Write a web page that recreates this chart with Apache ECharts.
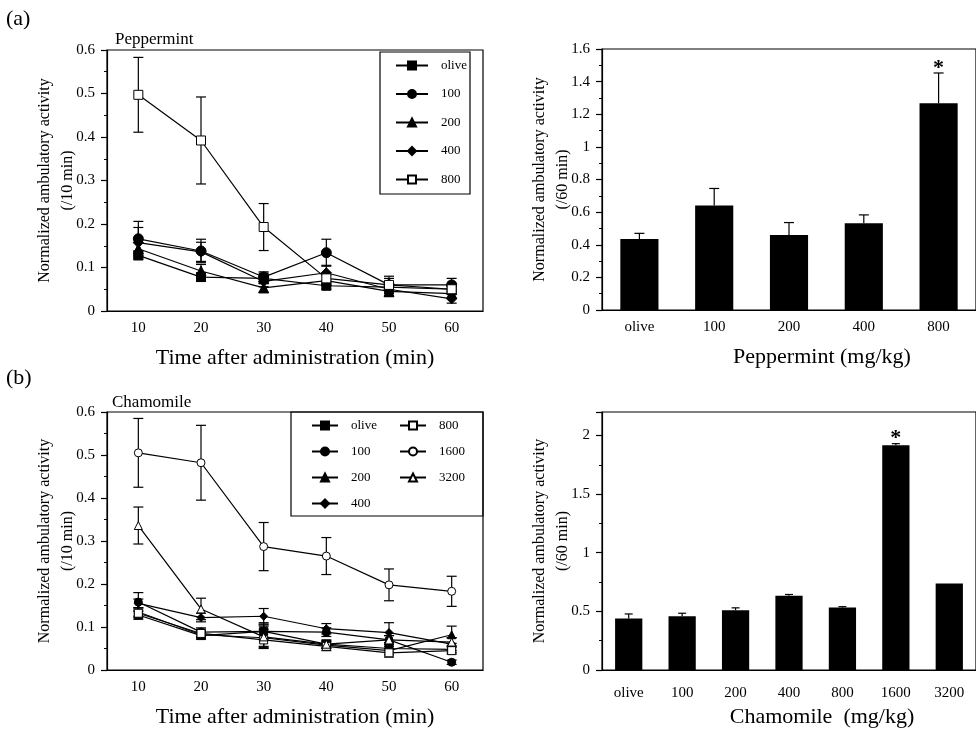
<!DOCTYPE html>
<html>
<head>
<meta charset="utf-8">
<script src="https://cdn.jsdelivr.net/npm/echarts@6/dist/echarts.min.js"></script>
<style>
  html, body { margin: 0; padding: 0; background: #fff; }
  #main { width: 976px; height: 729px; }
</style>
</head>
<body>
<div id="main"></div>
<script>
// time points (min)
var minutes = ['10', '20', '30', '40', '50', '60'];

// (a) peppermint, time course
var pepOlive = [0.128, 0.078, 0.075, 0.058, 0.055, 0.050];
var pepOliveErr = [0.010, 0.010, 0.012, 0.008, 0.012, 0.010];
var pep100 = [0.166, 0.138, 0.078, 0.134, 0.060, 0.060];
var pep100Err = [0.040, 0.027, 0.012, 0.031, 0.015, 0.015];
var pep200 = [0.143, 0.092, 0.053, 0.070, 0.045, 0.040];
var pep200Err = [0.015, 0.015, 0.010, 0.012, 0.012, 0.010];
var pep400 = [0.157, 0.136, 0.068, 0.088, 0.050, 0.028];
var pep400Err = [0.035, 0.022, 0.012, 0.017, 0.015, 0.010];
var pep800 = [0.497, 0.392, 0.193, 0.075, 0.060, 0.050];
var pep800Err = [0.086, 0.100, 0.054, 0.012, 0.020, 0.012];

// (a) peppermint, 60 min totals
var pepDoses = ['olive', '100', '200', '400', '800'];
var pepMeans = [0.436, 0.640, 0.460, 0.532, 1.268];
var pepErr = [0.034, 0.105, 0.076, 0.051, 0.185];
var pepSig = [0, 0, 0, 0, 1];

// (b) chamomile, time course
var chaOlive = [0.128, 0.080, 0.090, 0.060, 0.050, 0.048];
var chaOliveErr = [0.010, 0.008, 0.015, 0.008, 0.010, 0.008];
var cha100 = [0.158, 0.088, 0.090, 0.088, 0.070, 0.018];
var cha100Err = [0.022, 0.010, 0.020, 0.010, 0.010, 0.005];
var cha200 = [0.135, 0.082, 0.075, 0.058, 0.045, 0.082];
var cha200Err = [0.010, 0.010, 0.020, 0.008, 0.010, 0.020];
var cha400 = [0.155, 0.122, 0.125, 0.096, 0.087, 0.060];
var cha400Err = [0.010, 0.010, 0.018, 0.012, 0.023, 0.015];
var cha800 = [0.132, 0.085, 0.070, 0.055, 0.040, 0.045];
var cha800Err = [0.010, 0.010, 0.020, 0.010, 0.010, 0.008];
var cha1600 = [0.505, 0.482, 0.287, 0.265, 0.198, 0.183];
var cha1600Err = [0.080, 0.087, 0.056, 0.043, 0.037, 0.035];
var cha3200 = [0.336, 0.142, 0.077, 0.060, 0.070, 0.065];
var cha3200Err = [0.043, 0.025, 0.025, 0.010, 0.010, 0.010];

// (b) chamomile, 60 min totals
var chaDoses = ['olive', '100', '200', '400', '800', '1600', '3200'];
var chaMeans = [0.439, 0.458, 0.509, 0.633, 0.532, 1.916, 0.737];
var chaErr = [0.039, 0.026, 0.021, 0.011, 0.008, 0.014, 0];
var chaSig = [0, 0, 0, 0, 0, 1, 0];

var FONT = 'Liberation Serif';
var INK = '#000';

// symbol look for each dose
var doseStyle = {
    'olive': { symbol: 'rect', fill: INK },
    '100': { symbol: 'circle', fill: INK },
    '200': { symbol: 'triangle', fill: INK },
    '400': { symbol: 'diamond', fill: INK },
    '800': { symbol: 'rect', fill: '#fff' },
    '1600': { symbol: 'circle', fill: '#fff' },
    '3200': { symbol: 'triangle', fill: '#fff' }
};

// error bars (both sides for time course, upper only for bars)
function errorRender(capW, upperOnly) {
    return function(params, api) {
        var i = api.value(0), m = api.value(1), e = api.value(2), sig = api.value(3);
        var top = api.coord([i, m + e]);
        var bot = api.coord([i, upperOnly ? m : m - e]);
        var st = { stroke: INK, lineWidth: 1.2 };
        var kids = [];
        if (e > 0) {
            kids.push({ type: 'line', shape: { x1: top[0], y1: top[1], x2: bot[0], y2: bot[1] }, style: st });
            kids.push({ type: 'line', shape: { x1: top[0] - capW / 2, y1: top[1], x2: top[0] + capW / 2, y2: top[1] }, style: st });
            if (!upperOnly) {
                kids.push({ type: 'line', shape: { x1: bot[0] - capW / 2, y1: bot[1], x2: bot[0] + capW / 2, y2: bot[1] }, style: st });
            }
        }
        if (sig) {
            kids.push({ type: 'text', x: top[0], y: top[1] + 6, style: {
                text: '*', fill: INK, font: 'bold 22px ' + FONT, align: 'center', verticalAlign: 'bottom' } });
        }
        return { type: 'group', children: kids };
    };
}

function errData(means, errs, sig) {
    return means.map(function(v, i) { return [i, v, errs[i], sig ? sig[i] : 0]; });
}

var series = [];
function addCourse(panel, name, vals, errs, size) {
    var s = doseStyle[name];
    series.push({
        type: 'custom', xAxisIndex: panel, yAxisIndex: panel, z: 2, silent: true,
        renderItem: errorRender(10, false), data: errData(vals, errs)
    });
    series.push({
        type: 'line', name: name, xAxisIndex: panel, yAxisIndex: panel, z: 3,
        data: vals, symbol: s.symbol, symbolSize: size, showAllSymbol: true,
        lineStyle: { color: INK, width: 1.2 },
        itemStyle: { color: s.fill, borderColor: INK, borderWidth: 1 }
    });
}

addCourse(0, 'olive', pepOlive, pepOliveErr, 9);
addCourse(0, '100', pep100, pep100Err, 10);
addCourse(0, '200', pep200, pep200Err, 10);
addCourse(0, '400', pep400, pep400Err, 10);
addCourse(0, '800', pep800, pep800Err, 9);

addCourse(2, 'olive', chaOlive, chaOliveErr, 8);
addCourse(2, '100', cha100, cha100Err, 8);
addCourse(2, '200', cha200, cha200Err, 8);
addCourse(2, '400', cha400, cha400Err, 8);
addCourse(2, '800', cha800, cha800Err, 8);
addCourse(2, '1600', cha1600, cha1600Err, 8);
addCourse(2, '3200', cha3200, cha3200Err, 8);

series.push({
    type: 'bar', xAxisIndex: 1, yAxisIndex: 1, data: pepMeans, barWidth: '51%',
    itemStyle: { color: INK }, silent: true
});
series.push({
    type: 'custom', xAxisIndex: 1, yAxisIndex: 1, z: 3, silent: true,
    renderItem: errorRender(10, true), data: errData(pepMeans, pepErr, pepSig)
});
series.push({
    type: 'bar', xAxisIndex: 3, yAxisIndex: 3, data: chaMeans, barWidth: '51%',
    itemStyle: { color: INK }, silent: true
});
series.push({
    type: 'custom', xAxisIndex: 3, yAxisIndex: 3, z: 3, silent: true,
    renderItem: errorRender(8, true), data: errData(chaMeans, chaErr, chaSig)
});

var axLine = { lineStyle: { color: INK, width: 1.2 } };
var tickLbl = { color: INK, fontFamily: FONT, fontSize: 15 };

function xAx(grid, cats, name, shift, margin) {
    return {
        type: 'category', gridIndex: grid, data: cats, boundaryGap: true,
        axisLine: axLine,
        axisTick: { alignWithLabel: true, length: 5, lineStyle: { color: INK, width: 1.2 } },
        axisLabel: Object.assign({ margin: margin }, tickLbl),
        name: name, nameLocation: 'middle', nameGap: 36,
        nameTextStyle: { color: INK, fontFamily: FONT, fontSize: 22, padding: [0, 0, 0, shift] }
    };
}
function yAx(grid, max, step, name, gap) {
    return {
        type: 'value', gridIndex: grid, min: 0, max: max, interval: step,
        splitLine: { show: false },
        axisLine: Object.assign({ show: true }, axLine),
        axisTick: { show: true, length: 6, lineStyle: { color: INK, width: 1.2 } },
        minorTick: { show: true, splitNumber: 2, length: 3, lineStyle: { color: INK, width: 1 } },
        axisLabel: Object.assign({ margin: 12, showMaxLabel: max === 0.6 || max === 1.6 }, tickLbl),
        name: name, nameLocation: 'middle', nameGap: gap, nameMoveOverlap: false,
        nameTextStyle: { color: INK, fontFamily: FONT, fontSize: 16, lineHeight: 23 }
    };
}

var legendText = { color: INK, fontFamily: FONT, fontSize: 13, padding: [0, 0, 0, 8] };
function legendAt(left, top, names, w, gap) {
    return {
        left: left, top: top, orient: 'vertical', padding: 0, selectedMode: false,
        itemWidth: w, itemHeight: 10, itemGap: gap, data: names, textStyle: legendText
    };
}

var frame = { show: true, borderColor: INK, borderWidth: 1.2, backgroundColor: 'transparent' };

var option = {
    animation: false,
    backgroundColor: '#fff',
    textStyle: { fontFamily: FONT },
    grid: [
        Object.assign({ left: 107, top: 50, width: 376, height: 261 }, frame),
        Object.assign({ left: 602, top: 49, width: 375, height: 261 }, frame),
        Object.assign({ left: 107, top: 412, width: 376, height: 261 }, frame),
        Object.assign({ left: 602, top: 412, width: 375, height: 261 }, frame)
    ],
    xAxis: [
        xAx(0, minutes, 'Time after administration (min)', 0, 10),
        xAx(1, pepDoses, 'Peppermint (mg/kg)', 66, 10),
        xAx(2, minutes, 'Time after administration (min)', 0, 10),
        xAx(3, chaDoses, 'Chamomile  (mg/kg)', 66, 16)
    ],
    yAxis: [
        yAx(0, 0.6, 0.1, 'Normalized ambulatory activity\n(/10 min)', 28),
        yAx(1, 1.6, 0.2, 'Normalized ambulatory activity\n(/60 min)', 28),
        yAx(2, 0.6, 0.1, 'Normalized ambulatory activity\n(/10 min)', 28),
        yAx(3, 2.2, 0.5, 'Normalized ambulatory activity\n(/60 min)', 28)
    ],
    legend: [
        legendAt(395, 59, ['olive', '100', '200', '400', '800'], 32, 15.5),
        legendAt(311, 419, ['olive', '100', '200', '400'], 26, 13),
        legendAt(399, 419, ['800', '1600', '3200'], 26, 13)
    ],
    graphic: [
        { type: 'rect', shape: { x: 380, y: 52, width: 90, height: 142 }, style: { fill: 'none', stroke: INK, lineWidth: 1.2 }, z: 100 },
        { type: 'rect', shape: { x: 291, y: 412, width: 192, height: 104 }, style: { fill: 'none', stroke: INK, lineWidth: 1.2 }, z: 100 },
        { type: 'text', left: 6, top: 8, style: { text: '(a)', font: '22px ' + FONT, fill: INK } },
        { type: 'text', left: 6, top: 367, style: { text: '(b)', font: '22px ' + FONT, fill: INK } },
        { type: 'text', left: 115, top: 31, style: { text: 'Peppermint', font: '17px ' + FONT, fill: INK } },
        { type: 'text', left: 112, top: 394, style: { text: 'Chamomile', font: '17px ' + FONT, fill: INK } }
    ],
    series: series
};

var chart = echarts.init(document.getElementById('main'));
chart.setOption(option);
</script>
</body>
</html>
